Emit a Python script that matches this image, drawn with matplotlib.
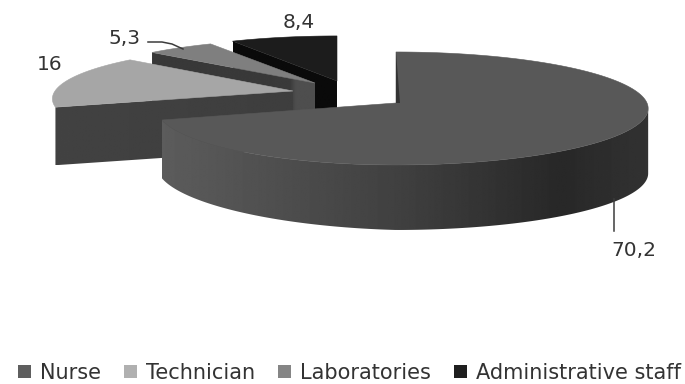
import numpy as np
import matplotlib
matplotlib.use('Agg')
import matplotlib.pyplot as plt
from matplotlib.patches import Patch, Polygon

categories = ['Nurse', 'Technician', 'Laboratories', 'Administrative staff']
values = [70.2, 16, 5.3, 8.4]

top_colors = ['#585858', '#a6a6a6', '#7f7f7f', '#1c1c1c']
legend_colors = ['#5e5e5e', '#b0b0b0', '#858585', '#1f1f1f']
text_color = '#333333'

# apex of every slice in pixels, the slices are pulled apart
apex = [(396, 103), (293, 91), (315, 83), (337, 81)]
# horizontal radius to the left / right of the apex, vertical radius, depth
rx_left = [238, 238, 238, 238]
rx_right = [251, 251, 251, 251]
ry = [56.5, 53, 52, 53]
depth_side = [58, 58, 58, 58]
depth_front = 65
persp = [0.097, 0.15, 0.15, 0.15]


def rim(i, theta):
    u, v = np.sin(theta), -np.cos(theta)
    w = 1 + persp[i] * v
    rx = np.where(u < 0, rx_left[i], rx_right[i])
    return apex[i][0] + rx * u * w, apex[i][1] + ry[i] * v * w


def wall(ax, outline, stops_x, stops_g, z):
    # side wall: horizontal grey ramp clipped to the wall outline
    x0, x1 = outline[:, 0].min(), outline[:, 0].max()
    ramp = np.interp(np.linspace(x0, x1, 400), stops_x, stops_g)[None, :]
    y0, y1 = outline[:, 1].min(), outline[:, 1].max()
    im = ax.imshow(ramp, cmap='gray', vmin=0, vmax=255, aspect='auto',
                   extent=(x0, x1, y1, y0), interpolation='bilinear', zorder=z)
    clip = Polygon(outline, closed=True, transform=ax.transData)
    im.set_clip_path(clip)


fig = plt.figure(figsize=(6.85, 3.84), dpi=100)
ax = fig.add_axes([0, 0, 1, 1])

edges = np.radians(np.cumsum([0] + values) / sum(values) * 360)
side_x = [[162, 400, 560, 647], [56, 293], [153, 290, 296, 315], [232, 337]]
side_g = [[92, 64, 40, 50], [66, 62], [56, 58, 78, 78], [10, 10]]

# back slices first, the nurse slice overlaps everything
for i in [3, 2, 1, 0]:
    z = 10 - i if i else 20
    t = np.linspace(edges[i], edges[i + 1], 300)
    x, y = rim(i, t)
    if i == 0:
        # curved outer wall from the rightmost point on, its depth shrinks
        # a little towards the left
        k = np.argmax(x)
        ds = np.where(np.sin(t) < 0, depth_front + 7 * np.sin(t), depth_front)
        outline = np.column_stack([np.r_[x[k:], x[k:][::-1]],
                                   np.r_[y[k:], (y + ds)[k:][::-1]]])
    else:
        # cut face from the rim to the apex
        ax0, ay0 = apex[i]
        outline = np.array([(x[0], y[0]), (ax0, ay0), (ax0, ay0 + depth_side[i]),
                            (x[0], y[0] + depth_side[i])])
    wall(ax, outline, side_x[i], side_g[i], z)
    pts = np.column_stack([np.r_[x, apex[i][0]], np.r_[y, apex[i][1]]])
    ax.add_patch(Polygon(pts, closed=True, fc=top_colors[i], ec=top_colors[i], lw=0.4, zorder=z))

# small visible part of the nurse slice's second cut face
x0, y0 = rim(0, np.array(0.0))
ax.add_patch(Polygon([(x0, y0), apex[0], (apex[0][0] + 4, apex[0][1])], closed=True,
                     fc='#333333', ec='none', zorder=21))

labels = [str(v).replace('.', ',') for v in values]
label_pos = [(634, 250), (50, 64), (125, 38), (299, 23)]
for s, (lx, ly) in zip(labels, label_pos):
    ax.text(lx, ly, s, fontsize=14.5, color=text_color, ha='center', va='center', zorder=30)

# leader lines
ax.plot([614, 614], [199, 231], color='#3c3c3c', lw=1.1, zorder=30)
ax.plot([148, 162, 172, 183], [42, 42, 44, 49], color='#3c3c3c', lw=1.1, zorder=30)

handles = [Patch(fc=c, ec='none') for c in legend_colors]
ax.legend(handles, categories, ncol=4, frameon=False, fontsize=15,
          labelcolor=text_color, handlelength=0.62, handleheight=0.62,
          handletextpad=0.42, columnspacing=1.12, borderpad=0, borderaxespad=0,
          loc='center left', bbox_to_anchor=(18 / 685, 1 - 373 / 384))

ax.set_xlim(0, 685)
ax.set_ylim(384, 0)
ax.axis('off')
fig.savefig('out.png', dpi=100, facecolor='white')
plt.close(fig)
